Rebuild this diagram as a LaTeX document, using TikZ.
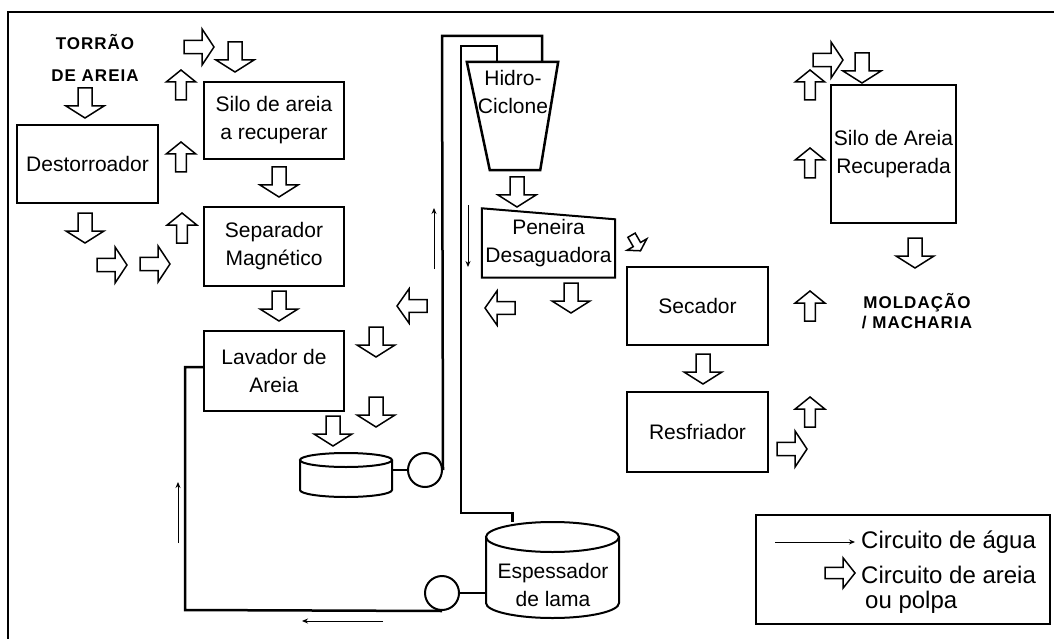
\documentclass[tikz,border=0pt]{standalone}
\usepackage{fontspec}
\setmainfont{Liberation Sans}
\newfontfamily\heavyfont[LetterSpace=6.0]{Liberation Sans}
\usetikzlibrary{arrows.meta,positioning}

\tikzset{
  sand/.style={draw, fill=white, line width=1.5pt},
  pics/sandarrow/.style={code={\draw[sand] (-15,-7) -- (3,-7) -- (3,-19) -- (15,0) -- (3,19) -- (3,7) -- (-15,7) -- cycle;}},
}

\begin{document}
\begin{tikzpicture}[x=1pt, y=-1pt, node distance=46pt, every node/.style={font=\fontsize{21}{28}\selectfont}, unit/.style={draw, line width=2pt, minimum width=140pt, minimum height=78pt, align=center, inner sep=0pt}, shell/.style={minimum width=#1, inner sep=0pt, align=center}, pump/.style={draw, circle, line width=2pt, minimum size=34pt, inner sep=0pt}, pipe/.style={line width=2.5pt}, water/.style={-{Stealth[length=6pt,width=5pt]}, line width=0.9pt}, tag/.style={font=\heavyfont\bfseries\fontsize{17}{20}\selectfont, align=center}, legtext/.style={font=\fontsize{24}{25}\selectfont, anchor=west, align=left, inner sep=0pt}]
\useasboundingbox (0,0) rectangle (1054,639);
\draw[line width=2pt] (8,639) -- (8,12) -- (1054,12);

% units of the sand line
\node[tag] (torrao) at (95,58) {TORRÃO\\[12pt]DE AREIA};
\node[unit, minimum width=141pt] (destor) at (87.5,164) {Destorroador};
\node[unit, minimum height=77pt] (silo) at (274,120.5) {Silo de areia\\a recuperar};
\node[unit, below=46pt of silo, minimum height=79pt] (sep) {Separador\\Magnético};
\node[unit, below=43pt of sep, minimum height=80pt] (lav) {Lavador de\\Areia};
\node[unit, minimum width=141pt] (sec) at (697.5,306) {Secador};
\node[unit, below=45pt of sec, minimum width=141pt, minimum height=80pt] (resf) {Resfriador};
\node[unit, minimum width=125pt, minimum height=138pt] (silorec) at (893.5,154) {Silo de Areia\\Recuperada};
\node[tag] (molda) at (917,311) {MOLDAÇÃO\\/ MACHARIA};

% hydrocyclone and screen
\node[shell=91pt, minimum height=108pt] (hc) at (512.5,116) {};
\draw[line width=2.5pt] (hc.north west) -- (hc.north east) -- ([xshift=-18pt]hc.south east) -- ([xshift=23pt]hc.south west) -- cycle;
\node[align=center] (hctext) at (513,91.5) {Hidro-\\Ciclone};
\node[shell=133pt, minimum height=69pt] (pen) at (548.5,243) {Peneira\\Desaguadora};
\draw[line width=2pt] (pen.north west) -- ([yshift=-11pt]pen.north east) -- (pen.south east) -- (pen.south west) -- cycle;

% tanks and pumps
\node[shell=92pt, minimum height=44pt] (tank) at (346,475) {};
\draw[line width=2pt] (346,460) ellipse [x radius=46pt, y radius=7pt];
\draw[line width=2pt] (300,460) -- (300,490) arc[start angle=180, end angle=360, x radius=46pt, y radius=7pt] -- (392,460);
\node[shell=133pt, minimum height=96pt] (esp) at (552.5,570) {};
\draw[line width=2pt] (552.5,537) ellipse [x radius=66.5pt, y radius=15pt];
\draw[line width=2pt] (486,537) -- (486,603) arc[start angle=180, end angle=360, x radius=66.5pt, y radius=15pt] -- (619,537);
\node[align=center] (esptext) at (553,585) {Espessador\\de lama};
\node[pump] (tpump) at (425,470) {};
\node[pump] (bpump) at (442,593) {};

% water pipes
\coordinate (riser) at (442,36);
\coordinate (return) at (461,46);
\coordinate (elbow) at (461,513);
\coordinate (sump) at (185,610);
\draw[pipe] (tank.east |- tpump) -- (tpump.west);
\draw[pipe] (tpump.east) -- (riser) -| ([xshift=-16pt]hc.north east);
\draw[pipe] ([xshift=30pt]hc.north west) |- (return) -- (elbow) -| ([xshift=-40pt]esp.north);
\draw[pipe] (bpump.east) -- (bpump.east -| esp.west);
\draw[pipe] (bpump.south) -- (sump) |- ([yshift=4pt]lav.west);
\draw[water] (178,543) -- (178,482);
\draw[water] (383,621) -- (302,621);
\draw[water] (434,269) -- (434,208);
\draw[water] (468,205) -- (468,267);

% sand arrows
\foreach \p in {(85,103),(235,57),(85,228),(279,182),(279,306),(376,342),(376,412),(333,431),(517,192),(571,298),(703,369),(862,68),(915,253)}
  \pic[rotate=-90] at \p {sandarrow};
\foreach \p in {(199,47),(112,265),(155,264),(828,60),(792,449)}
  \pic[yscale=0.95] at \p {sandarrow};
\foreach \p in {(181,85),(181,157),(182,228),(810,85),(810,163),(810,306),(810,412)}
  \pic[rotate=90, yscale=0.78] at \p {sandarrow};
\foreach \p in {(412,306),(500,308)}
  \pic[rotate=180, yscale=0.9] at \p {sandarrow};
\pic[rotate=-60, scale=0.6] at (636,243) {sandarrow};

% legend
\node[draw, line width=2.5pt, minimum width=294pt, minimum height=109pt] (legend) at (903,569.5) {};
\draw[water] (775,542) -- (855,542);
\node[legtext] (legwater) at (861,542) {Circuito de água};
\pic[yscale=0.8] at (840,573) {sandarrow};
\node[legtext] (legsand) at (861,590) {Circuito de areia\\\hspace{4pt}ou polpa};
\end{tikzpicture}
\end{document}
